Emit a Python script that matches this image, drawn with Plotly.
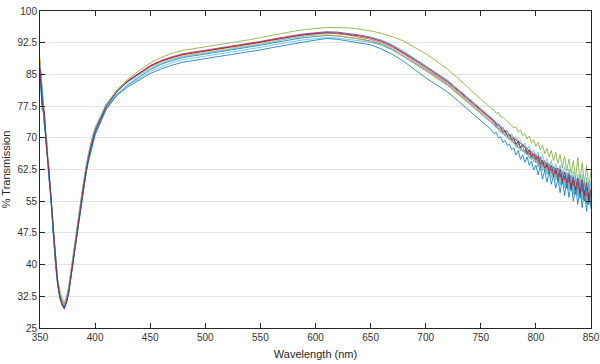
import plotly.graph_objects as go

# Wavelength sampling (nm)
wl_dip = [350, 352, 354, 356, 358, 360, 362, 364, 366, 368, 370, 372, 374, 376, 378,
          380, 382, 384, 386, 388, 390, 392, 394, 396, 398, 400]
wl_mid = [410, 420, 430, 440, 450, 460, 470, 480, 490, 500, 510, 520, 530, 540, 550,
          560, 570, 580, 590, 600, 610, 620, 630, 640, 650, 660, 670, 680, 690, 700,
          710, 720, 730, 740, 750, 760]
wl_end = [762, 764, 766, 768, 770, 772, 774, 776, 778, 780, 782, 784, 786, 788, 790,
          792, 794, 796, 798, 800, 802, 804, 806, 808, 810, 812, 814, 816, 818, 820,
          822, 824, 826, 828, 830, 832, 834, 836, 838, 840, 842, 844, 846, 848, 850]
wavelength = wl_dip + wl_mid + wl_end

# % transmission, per sample
s1_dip = [85.0, 76.5, 75.8, 66.9, 62.8, 54.9, 47.2, 40.1, 35.2, 31.9, 30.6, 29.8, 31.0, 33.2, 36.9,
          40.6, 44.8, 48.2, 51.9, 55.3, 58.8, 62.3, 64.9, 67.1, 69.3, 71.0]
s1_mid = [76.8, 80.3, 82.6, 84.4, 86.1, 87.4, 88.3, 89.0, 89.4, 89.8, 90.2, 90.6, 91.0, 91.4, 91.9,
          92.4, 92.9, 93.3, 93.7, 94.0, 94.2, 94.1, 93.8, 93.4, 92.9, 92.1, 90.9, 89.4, 87.7, 86.0,
          84.3, 82.5, 80.3, 78.1, 75.8, 73.5]
s1_end = [73.2, 72.4, 72.3, 71.4, 71.3, 70.5, 70.4, 69.5, 69.6, 68.6, 68.7, 67.6, 67.9, 66.8, 67.0,
          65.9, 66.5, 64.9, 65.5, 64.1, 64.8, 63.0, 64.2, 62.1, 63.3, 61.5, 62.6, 60.6, 62.3, 59.8,
          61.5, 59.1, 61.0, 58.0, 60.8, 57.5, 59.9, 56.6, 59.6, 55.8, 59.2, 55.0, 58.3, 54.2, 57.0]

s2_dip = [88.3, 81.2, 73.4, 69.6, 61.2, 56.3, 48.6, 41.6, 36.4, 33.6, 32.0, 30.8, 32.4, 34.5, 38.4,
          42.3, 46.3, 49.8, 53.4, 56.9, 60.4, 63.8, 66.3, 68.6, 70.6, 72.4]
s2_mid = [77.8, 81.3, 83.6, 85.3, 87.0, 88.2, 89.0, 89.7, 90.1, 90.5, 90.9, 91.3, 91.7, 92.1, 92.6,
          93.1, 93.6, 94.0, 94.4, 94.6, 94.8, 94.6, 94.3, 93.8, 93.3, 92.5, 91.3, 89.8, 88.1, 86.4,
          84.7, 82.9, 80.7, 78.5, 76.2, 73.9]
s2_end = [73.6, 73.2, 72.2, 72.3, 71.2, 71.5, 70.3, 70.5, 69.4, 69.7, 68.4, 69.0, 67.5, 68.3, 66.6,
          67.7, 65.9, 66.8, 65.0, 66.2, 64.0, 65.5, 63.2, 64.6, 62.4, 63.9, 61.6, 63.2, 60.7, 62.8,
          60.1, 62.0, 59.4, 61.6, 58.5, 61.1, 57.7, 60.4, 57.0, 60.0, 56.1, 59.5, 55.4, 58.8, 54.8]

s3_dip = [89.0, 79.0, 72.6, 70.1, 61.5, 55.9, 48.3, 41.4, 36.5, 33.9, 31.6, 30.6, 31.9, 34.3, 38.1,
          42.0, 46.0, 49.6, 53.1, 56.6, 60.1, 63.5, 66.0, 68.3, 70.4, 72.1]
s3_mid = [77.9, 81.4, 83.5, 85.1, 86.7, 87.8, 88.7, 89.4, 89.8, 90.2, 90.6, 91.0, 91.4, 91.8, 92.3,
          92.8, 93.3, 93.7, 94.1, 94.3, 94.4, 94.2, 93.8, 93.3, 92.7, 91.9, 90.7, 89.2, 87.5, 85.8,
          84.1, 82.3, 80.1, 77.9, 75.7, 73.4]
s3_end = [73.0, 73.1, 72.0, 72.2, 71.1, 71.2, 70.0, 70.3, 69.2, 69.5, 68.0, 68.9, 67.2, 68.1, 66.2,
          67.1, 65.2, 66.3, 64.4, 65.7, 63.2, 65.0, 62.2, 64.3, 61.6, 63.8, 60.8, 63.0, 60.1, 62.4,
          59.0, 62.1, 58.2, 61.6, 57.7, 61.1, 56.9, 60.3, 56.4, 60.0, 55.5, 59.7, 54.6, 59.1, 55.0]

s4_dip = [86.0, 77.8, 74.9, 67.2, 63.0, 55.0, 47.6, 40.6, 35.5, 32.4, 30.6, 29.6, 31.2, 33.5, 37.0,
          41.0, 45.0, 48.6, 52.0, 55.6, 59.0, 62.6, 65.2, 67.5, 69.7, 71.6]
s4_mid = [77.3, 81.0, 83.5, 85.4, 87.1, 88.3, 89.2, 89.9, 90.3, 90.7, 91.1, 91.5, 91.9, 92.3, 92.8,
          93.3, 93.8, 94.2, 94.6, 94.9, 95.1, 95.0, 94.7, 94.3, 93.8, 93.0, 91.8, 90.3, 88.6, 86.9,
          85.2, 83.4, 81.2, 79.0, 76.7, 74.4]
s4_end = [74.0, 73.4, 73.2, 72.4, 72.3, 71.4, 71.4, 70.6, 70.4, 69.9, 69.5, 69.0, 68.6, 68.1, 67.9,
          67.2, 66.9, 66.6, 65.8, 66.0, 64.9, 65.3, 64.0, 64.5, 63.1, 63.7, 62.4, 63.1, 61.5, 62.8,
          60.7, 62.2, 60.1, 61.6, 59.3, 61.1, 58.6, 60.3, 57.8, 59.8, 57.1, 59.4, 56.2, 58.5, 55.6]

s5_dip = [87.2, 81.5, 75.3, 68.0, 61.7, 55.6, 48.2, 41.2, 36.2, 33.0, 31.2, 30.3, 31.6, 34.0, 37.8,
          41.8, 45.8, 49.3, 52.8, 56.3, 59.8, 63.3, 65.8, 68.1, 70.3, 72.0]
s5_mid = [77.5, 81.3, 83.9, 85.9, 87.7, 89.0, 90.0, 90.7, 91.1, 91.5, 91.9, 92.3, 92.8, 93.2, 93.7,
          94.2, 94.8, 95.2, 95.6, 95.9, 96.1, 96.1, 96.0, 95.7, 95.3, 94.7, 93.9, 92.9, 91.5, 89.9,
          88.1, 86.2, 83.9, 81.6, 79.2, 76.8]
s5_end = [76.6, 75.8, 76.0, 74.9, 74.9, 74.3, 73.8, 73.5, 72.8, 72.4, 72.6, 71.3, 71.9, 70.5, 71.0,
          69.7, 70.4, 68.8, 69.6, 68.0, 68.9, 67.1, 68.3, 66.2, 67.5, 65.5, 67.0, 64.6, 66.5, 64.0,
          66.0, 62.8, 65.6, 62.2, 65.0, 61.5, 64.6, 60.4, 65.3, 59.8, 64.1, 59.2, 63.4, 58.6, 62.0]

s6_dip = [85.8, 82.0, 73.8, 68.9, 60.5, 56.0, 47.8, 40.8, 36.3, 33.1, 31.3, 30.4, 31.8, 34.2, 37.7,
          41.7, 45.6, 49.1, 52.6, 56.1, 59.6, 63.1, 65.7, 68.0, 70.1, 71.9]
s6_mid = [77.9, 81.2, 83.2, 84.8, 86.4, 87.6, 88.5, 89.2, 89.6, 90.0, 90.4, 90.8, 91.2, 91.6, 92.1,
          92.6, 93.2, 93.6, 94.1, 94.5, 94.7, 94.7, 94.5, 94.2, 93.8, 93.1, 92.0, 90.5, 88.8, 87.1,
          85.4, 83.6, 81.4, 79.2, 76.9, 74.6]
s6_end = [74.3, 73.6, 73.4, 72.5, 72.6, 71.6, 71.8, 70.6, 70.9, 69.8, 70.2, 68.8, 69.4, 68.0, 68.7,
          67.2, 68.0, 66.4, 67.1, 65.5, 66.6, 64.5, 66.0, 63.7, 65.1, 62.9, 64.6, 62.0, 63.9, 61.3,
          63.5, 60.4, 63.0, 59.7, 62.6, 58.8, 62.1, 58.1, 61.4, 57.4, 61.3, 56.5, 60.6, 55.9, 59.8]

s7_dip = [86.5, 78.0, 76.2, 67.5, 62.4, 55.2, 47.9, 40.9, 35.8, 32.2, 30.5, 29.5, 31.0, 33.3, 37.2,
          41.2, 45.2, 48.8, 52.3, 55.8, 59.3, 62.8, 65.3, 67.6, 69.8, 71.6]
s7_mid = [77.4, 81.0, 83.4, 85.2, 86.9, 88.1, 89.0, 89.7, 90.1, 90.5, 90.9, 91.3, 91.7, 92.1, 92.6,
          93.1, 93.6, 94.0, 94.4, 94.7, 94.9, 94.8, 94.5, 94.1, 93.6, 92.8, 91.6, 90.1, 88.4, 86.7,
          85.0, 83.2, 81.0, 78.8, 76.5, 74.2]
s7_end = [73.9, 73.0, 72.9, 72.5, 71.5, 71.7, 70.6, 70.8, 69.7, 69.9, 68.5, 69.3, 67.7, 68.4, 67.9,
          66.3, 67.2, 65.4, 66.3, 64.8, 65.8, 63.6, 64.7, 62.8, 64.1, 62.0, 63.5, 61.2, 62.9, 60.5,
          62.6, 59.8, 61.9, 59.3, 61.5, 58.2, 60.8, 57.6, 60.5, 56.9, 60.1, 56.2, 59.4, 55.1, 58.0]

s8_dip = [84.5, 80.5, 72.8, 68.2, 60.9, 55.3, 47.5, 40.5, 35.6, 32.5, 30.8, 29.9, 31.2, 33.4, 37.0,
          40.8, 44.7, 48.1, 51.5, 55.0, 58.5, 61.9, 64.4, 66.7, 68.9, 70.7]
s8_mid = [76.7, 80.1, 82.1, 83.6, 85.2, 86.3, 87.2, 87.9, 88.3, 88.7, 89.1, 89.5, 89.9, 90.3, 90.8,
          91.3, 91.8, 92.2, 92.7, 93.1, 93.5, 93.3, 92.9, 92.5, 92.0, 91.0, 89.7, 88.1, 86.1, 84.2,
          82.5, 80.8, 78.6, 76.4, 74.1, 71.8]
s8_end = [71.0, 71.3, 70.0, 70.2, 68.9, 69.4, 68.2, 68.5, 67.2, 67.6, 65.9, 67.0, 64.9, 66.0, 64.2,
          65.5, 63.5, 64.5, 62.4, 63.5, 61.2, 63.3, 60.2, 62.3, 59.5, 61.9, 59.0, 61.2, 58.1, 60.4,
          57.0, 60.3, 56.3, 59.6, 55.9, 59.3, 55.0, 58.5, 54.3, 58.0, 53.5, 57.6, 52.6, 57.0, 53.2]

s9_dip = [87.5, 79.2, 74.0, 69.0, 61.8, 54.7, 47.4, 40.3, 35.4, 32.6, 30.9, 30.1, 31.7, 34.1, 37.9,
          41.9, 45.9, 49.4, 52.9, 56.4, 59.9, 63.4, 65.9, 68.2, 70.4, 72.1]
s9_mid = [77.1, 80.4, 82.4, 84.0, 85.6, 86.8, 87.8, 88.5, 88.9, 89.3, 89.7, 90.1, 90.5, 90.9, 91.4,
          91.9, 92.4, 92.8, 93.2, 93.5, 93.7, 93.6, 93.3, 92.9, 92.6, 91.9, 90.8, 89.3, 87.7, 86.0,
          84.3, 82.6, 80.4, 78.2, 75.9, 73.6]
s9_end = [72.8, 72.9, 71.8, 72.0, 70.8, 71.3, 70.0, 70.2, 68.9, 69.3, 67.7, 68.7, 66.9, 68.1, 66.2,
          67.2, 65.1, 66.2, 64.3, 65.6, 63.0, 65.0, 62.2, 64.4, 61.3, 63.5, 60.6, 62.8, 60.1, 62.4,
          58.8, 62.1, 58.3, 61.8, 57.8, 61.1, 56.7, 60.4, 56.3, 60.1, 55.3, 59.7, 54.4, 58.9, 54.6]

series = [
    (s1_dip + s1_mid + s1_end, "#0072BD"),
    (s2_dip + s2_mid + s2_end, "#D95319"),
    (s3_dip + s3_mid + s3_end, "#EDB120"),
    (s4_dip + s4_mid + s4_end, "#7E2F8E"),
    (s5_dip + s5_mid + s5_end, "#77AC30"),
    (s6_dip + s6_mid + s6_end, "#4DBEEE"),
    (s9_dip + s9_mid + s9_end, "#4DBEEE"),
    (s8_dip + s8_mid + s8_end, "#0072BD"),
    (s7_dip + s7_mid + s7_end, "#A2142F"),
]

y_ticks = [25, 32.5, 40, 47.5, 55, 62.5, 70, 77.5, 85, 92.5, 100]
y_tick_text = ["25", "32.5", "40", "47.5", "55", "62.5", "70", "77.5", "85", "92.5", "100"]
x_ticks = [350, 400, 450, 500, 550, 600, 650, 700, 750, 800, 850]

fig = go.Figure()
for vals, col in series:
    fig.add_trace(go.Scatter(x=wavelength, y=vals, mode="lines",
                             line=dict(color=col, width=0.8), showlegend=False,
                             hoverinfo="skip"))

axis_common = dict(showline=True, linecolor="#262626", linewidth=1, mirror="ticks",
                   ticks="inside", ticklen=5, tickwidth=1, tickcolor="#262626",
                   zeroline=False, automargin=False,
                   tickfont=dict(family="Liberation Sans, Arial", size=10, color="#333333"))

fig.update_layout(
    width=600, height=364,
    margin=dict(l=40, r=9, t=11, b=36),
    paper_bgcolor="white", plot_bgcolor="white",
    font=dict(family="Liberation Sans, Arial", size=11, color="#262626"),
    xaxis=dict(range=[350, 850], tickvals=x_ticks, showgrid=False,
               title=dict(text="Wavelength (nm)", standoff=8,
                          font=dict(size=11, color="#262626")),
               **axis_common),
    yaxis=dict(range=[25, 100], tickvals=y_ticks, ticktext=y_tick_text,
               showgrid=True, gridcolor="#e3e3e3", gridwidth=1,
               title=dict(text="% Transmission", standoff=4,
                          font=dict(size=11, color="#262626")),
               **axis_common),
)

fig.write_html("out.html", config={"displayModeBar": False},
               post_script="document.body.style.margin='0';document.body.style.padding='0';")
